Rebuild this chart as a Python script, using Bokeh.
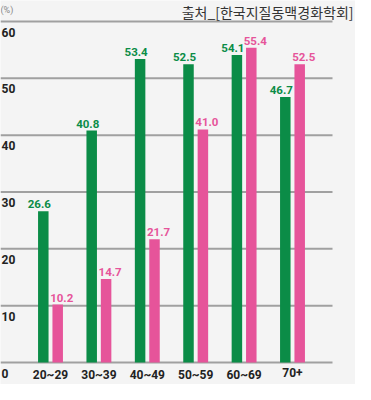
from bokeh.plotting import figure
from bokeh.models import Range1d, Label
from bokeh.core.properties import value
from bokeh.embed import file_html
from bokeh.resources import INLINE

categories = ["20~29", "30~39", "40~49", "50~59", "60~69", "70+"]
green_values = [26.6, 40.8, 53.4, 52.5, 54.1, 46.7]
pink_values = [10.2, 14.7, 21.7, 41.0, 55.4, 52.5]
y_ticks = [0, 10, 20, 30, 40, 50, 60]
title_text = "출처_[한국지질동맥경화학회]"
unit_text = "(%)"

GREEN = "#0b8c47"
PINK = "#e6549a"

W, H = 355, 384
xpx = 48.4            # pixels per category
x0px = 50             # pixel of first category centre
y0px, y60px = 362, 21
ypx = (y0px - y60px) / 60.0

xs = -x0px / xpx
xe = xs + W / xpx
ys = -(H - y0px) / ypx
ye = 60 + y60px / ypx

p = figure(width=W, height=H, output_backend="svg", toolbar_location=None,
           x_range=Range1d(xs, xe), y_range=Range1d(ys, ye),
           x_axis_location=None, y_axis_location=None,
           min_border=0, outline_line_color=None,
           background_fill_color="#f4f4f4", border_fill_color="#f4f4f4")
p.grid.visible = False

# grid lines
grid_end = xs + 332 / xpx
p.segment(x0=[xs] * len(y_ticks), x1=[grid_end] * len(y_ticks), y0=y_ticks, y1=y_ticks,
          line_color="#a0a0a0", line_width=2)

idx = list(range(len(categories)))
off = 7.2 / xpx
bw = 10.5 / xpx
gx = [i - off for i in idx]
px = [i + off for i in idx]

p.vbar(x=gx, top=green_values, bottom=0, width=bw, fill_color=GREEN, line_color=None)
p.vbar(x=px, top=pink_values, bottom=0, width=bw, fill_color=PINK, line_color=None)

font = value("Roboto")
p.text(x=gx, y=green_values, text=[f"{v:.1f}" for v in green_values],
       text_align="center", text_baseline="bottom", x_offset=-4, y_offset=-3,
       text_font=font, text_font_size="11.5px", text_font_style="bold", text_color=GREEN)
p.text(x=px, y=pink_values, text=[f"{v:.1f}" for v in pink_values],
       text_align="center", text_baseline="bottom", x_offset=4, y_offset=-3,
       text_font=font, text_font_size="11.5px", text_font_style="bold", text_color=PINK)

# category labels
p.text(x=idx, y=[0] * len(idx), text=categories, text_align="center", text_baseline="top",
       y_offset=5, text_font=font, text_font_size="12px", text_font_style="bold",
       text_color="#222222")

# y tick labels
p.text(x=[xs] * len(y_ticks), y=y_ticks, text=[str(t) for t in y_ticks],
       text_align="left", text_baseline="top", x_offset=1, y_offset=6,
       text_font=font, text_font_size="12px", text_font_style="bold", text_color="#222222")

p.add_layout(Label(x=0, y=H - 4, x_units="screen", y_units="screen", text=unit_text,
                   text_font_size="9px", text_color="#888888", text_baseline="top",
                   text_font="Roboto"))
p.add_layout(Label(x=W - 2, y=H - 1, x_units="screen", y_units="screen", text=title_text,
                   text_font_size="14px", text_color="#333333", text_baseline="top",
                   text_align="right", text_font="Noto Sans CJK KR"))

open("out.html", "w").write(file_html(p, INLINE))
